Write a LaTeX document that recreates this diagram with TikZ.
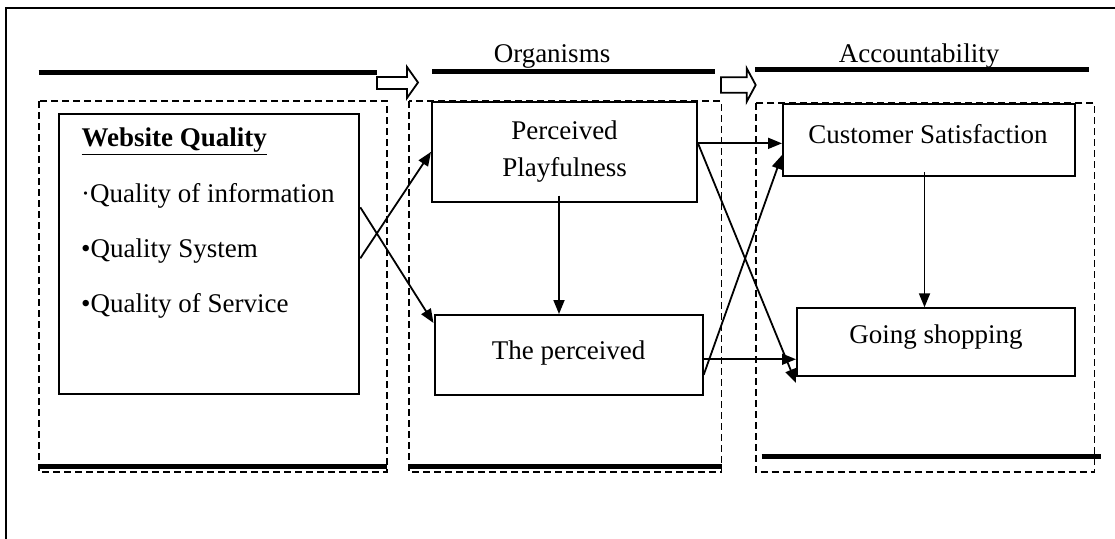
\documentclass[tikz,border=0pt]{standalone}
\usepackage{fontspec}
\setmainfont{Liberation Serif}
\usetikzlibrary{arrows.meta,calc}

\begin{document}
\begin{tikzpicture}[x=1pt,y=-1pt,
  font=\fontsize{27}{30}\selectfont,
  box/.style={draw,line width=2pt,inner sep=0pt},
  dashbox/.style={draw,dash pattern=on 7pt off 4pt,line width=1.6pt},
  bar/.style={line width=5pt},
  hollow/.style={draw,line width=1.8pt,fill=white},
  link/.style={line width=1.8pt,-{Triangle[length=14pt,width=11pt]}},
  txt/.style={anchor=base,inner sep=0pt}]
\useasboundingbox (0,0) rectangle (1115,538);

% outer frame
\draw[line width=2pt] (5.5,545) -- (5.5,7.5) -- (1125,7.5);

% stage headings
\node[txt] (org) at (552,62) {Organisms};
\node[txt] (acc) at (919,62) {Accountability};
\draw[bar] (38.5,72.5) -- (377,72.5);
\draw[bar] (432,71) -- (715,71);
\draw[bar] (755,69) -- (1088.5,69);
\draw[hollow] (377,77) -- (407,77) -- (407,67) -- (418,82.5) -- (407,98) -- (407,89) -- (377,89) -- cycle;
\draw[hollow] (721,77.3) -- (746.7,77.3) -- (746.7,68.3) -- (755.7,85) -- (746.7,101.7) -- (746.7,92.7) -- (721,92.7) -- cycle;

% dashed stage frames
\draw[dashbox] (39,101) rectangle (387,472);
\draw[dashbox] (409,101) rectangle (721.5,472);
\draw[dashbox] (755.7,103) rectangle (1094.5,472);
\draw[bar] (38.5,466) -- (387,466);
\draw[bar] (409,466) -- (721.5,466);
\draw[bar] (761.7,456) -- (1101,456);

% stimulus
\node[box,minimum width=300.8pt,minimum height=280pt] (wq) at (208.9,254) {};
\node[txt,anchor=base west] (wqt) at (81.4,146.7) {\underline{\textbf{Website Quality}}};
\node[txt,anchor=base west] (wq1) at (81,202) {·Quality of information};
\node[txt,anchor=base west] (wq2) at (81,257) {•Quality System};
\node[txt,anchor=base west] (wq3) at (81,312.5) {•Quality of Service};

% organisms
\node[box,minimum width=265pt,minimum height=99.7pt] (pp) at (564.5,151.85) {};
\node[txt] (ppt1) at (564.5,139) {Perceived};
\node[txt] (ppt2) at (564.5,176) {Playfulness};
\node[box,minimum width=268.2pt,minimum height=79.5pt] (tp) at (568.6,354.75) {};
\node[txt] (tpt) at (568.6,359) {The perceived};

% accountability
\node[box,minimum width=292pt,minimum height=72pt] (cs) at (929,140) {};
\node[txt] (cst) at (928,143.3) {Customer Satisfaction};
\node[box,minimum width=278pt,minimum height=67.7pt] (gs) at (936,342.15) {};
\node[txt] (gst) at (936,343.3) {Going shopping};

% links
\draw[link] ($(wq.east)+(0,4.3)$) -- (pp.west);
\draw[link] ($(wq.east)+(0,-46.7)$) -- ($(tp.north west)+(0,9)$);
\draw[link] ($(pp.south)+(-5.5,-7)$) -- ($(pp.south |- tp.north)+(-5.5,0)$);
\draw[link] ($(pp.east)+(0,-8.5)$) -- ($(pp.east -| cs.west)+(0,-8.5)$);
\draw[link] ($(pp.east)+(0,-8.5)$) -- ($(gs.south west)+(0,6)$);
\draw[link] ($(tp.east)+(0,20)$) -- ($(cs.west)+(0,15)$);
\draw[link] ($(tp.east)+(0,4.5)$) -- ($(tp.east -| gs.west)+(0,4.5)$);
\draw[link] ($(cs.south)+(-4.5,-5)$) -- ($(cs.south |- gs.north)+(-4.5,0)$);
\end{tikzpicture}
\end{document}
